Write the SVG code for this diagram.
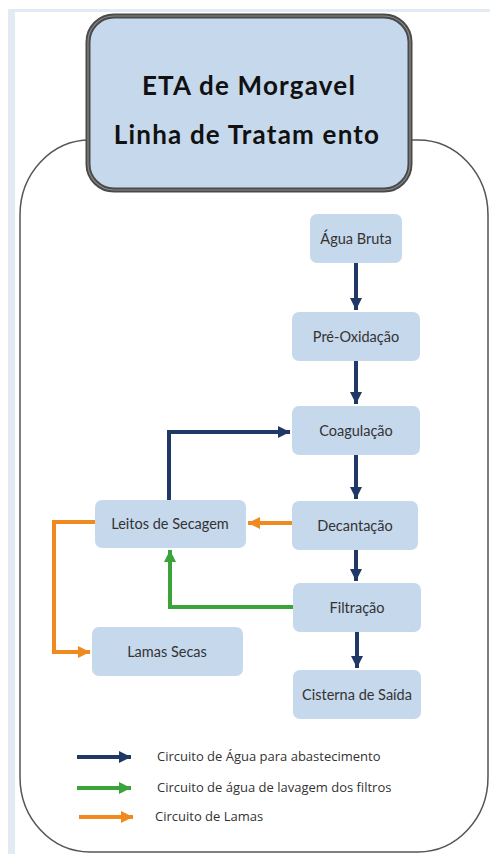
<svg xmlns="http://www.w3.org/2000/svg" width="490" height="854" viewBox="0 0 490 854">
<style>
.node rect{fill:#c6d8ec;}
.node text{font-family:Lato,"Liberation Sans",sans-serif;font-size:14.5px;fill:#333;text-anchor:middle;}
.title text{font-family:Lato,"Liberation Sans",sans-serif;font-size:26px;font-weight:bold;fill:#111;text-anchor:middle;letter-spacing:1.2px;}
.navy{stroke:#1f3866;stroke-width:4;fill:none;}
.green{stroke:#3aa33a;stroke-width:4;fill:none;}
.orange{stroke:#f08a1e;stroke-width:4;fill:none;}
.legend text{font-family:"Open Sans","Liberation Sans",sans-serif;font-size:13px;fill:#333;}
</style>
<defs>
<marker id="aN" markerUnits="userSpaceOnUse" markerWidth="14" markerHeight="14" refX="12" refY="7" orient="auto"><path d="M0,1 L12,7 L0,13 Z" fill="#1f3866"/></marker>
<marker id="aG" markerUnits="userSpaceOnUse" markerWidth="14" markerHeight="14" refX="12" refY="7" orient="auto"><path d="M0,1 L12,7 L0,13 Z" fill="#3aa33a"/></marker>
<marker id="aO" markerUnits="userSpaceOnUse" markerWidth="14" markerHeight="14" refX="12" refY="7" orient="auto"><path d="M0,1 L12,7 L0,13 Z" fill="#f08a1e"/></marker>
</defs>
<rect x="0" y="0" width="490" height="854" fill="#fff"/>
<rect x="8" y="9" width="482" height="3" fill="#e2eaf4"/>
<rect x="8" y="9" width="7" height="845" fill="#e2eaf4"/>
<rect id="container" x="20" y="140" width="468" height="712" rx="70" ry="75" fill="none" stroke="#555" stroke-width="1.5"/>
<g id="title" class="title">
<rect x="88" y="16" width="322" height="174" rx="26" fill="#c6d8ec" stroke="#4a4a4a" stroke-width="5"/>
<rect x="88" y="16" width="322" height="174" rx="26" fill="none" stroke="#8a8a8a" stroke-width="1.2"/>
<text x="249" y="95">ETA de Morgavel</text>
<text x="247" y="144">Linha de Tratam ento</text>
</g>
<g id="connectors">
<path class="navy" d="M356,263 L356,310" marker-end="url(#aN)"/>
<path class="navy" d="M356,361 L356,404" marker-end="url(#aN)"/>
<path class="navy" d="M356,455 L356,499" marker-end="url(#aN)"/>
<path class="navy" d="M356,550 L356,581" marker-end="url(#aN)"/>
<path class="navy" d="M357,632 L357,668" marker-end="url(#aN)"/>
<path class="navy" d="M169,500 L169,432 L290,432" marker-end="url(#aN)"/>
<path class="orange" d="M292,523 L248,523" marker-end="url(#aO)"/>
<path class="green" d="M293,607 L170,607 L170,550" marker-end="url(#aG)"/>
<path class="orange" d="M95,522 L54,522 L54,652 L90,652" marker-end="url(#aO)"/>
</g>
<g id="agua-bruta" class="node"><rect x="310" y="214" width="92" height="49" rx="7"/><text x="356" y="244">Água Bruta</text></g>
<g id="pre-oxidacao" class="node"><rect x="292" y="312" width="128" height="49" rx="7"/><text x="356" y="342">Pré-Oxidação</text></g>
<g id="coagulacao" class="node"><rect x="292" y="406" width="128" height="49" rx="7"/><text x="356" y="436">Coagulação</text></g>
<g id="leitos" class="node"><rect x="95" y="500" width="151" height="48" rx="7"/><text x="170" y="529">Leitos de Secagem</text></g>
<g id="decantacao" class="node"><rect x="292" y="501" width="126" height="49" rx="7"/><text x="355" y="531">Decantação</text></g>
<g id="filtracao" class="node"><rect x="293" y="583" width="128" height="49" rx="7"/><text x="357" y="613">Filtração</text></g>
<g id="lamas-secas" class="node"><rect x="92" y="627" width="151" height="49" rx="7"/><text x="167" y="657">Lamas Secas</text></g>
<g id="cisterna" class="node"><rect x="293" y="670" width="128" height="49" rx="7"/><text x="357" y="700">Cisterna de Saída</text></g>
<g id="legend" class="legend">
<path class="navy" d="M77,757 L131,757" marker-end="url(#aN)"/>
<path class="green" d="M77,788 L131,788" marker-end="url(#aG)"/>
<path class="orange" d="M79,817 L133,817" marker-end="url(#aO)"/>
<text x="157" y="761">Circuito de Água para abastecimento</text>
<text x="157" y="792">Circuito de água de lavagem dos filtros</text>
<text x="155" y="821">Circuito de Lamas</text>
</g>
</svg>
